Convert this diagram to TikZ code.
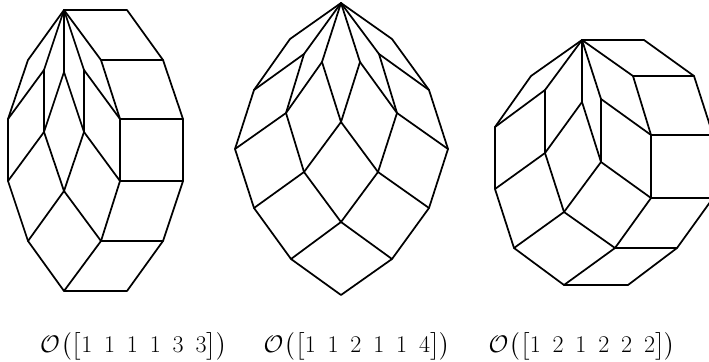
\documentclass[tikz,border=0pt]{standalone}
\usepackage{fix-cm}
\usepackage{exscale}
\tikzset{
  px/.style={x=0.75pt,y=-0.75pt},
  edge/.style={line width=1.3pt,line join=round,line cap=round,black},
  lab/.style={inner sep=0pt,anchor=base,font=\fontsize{18}{24}\selectfont}
}
\DeclareMathSizes{18}{18}{12}{9}
\newcommand{\gap}{\hspace{0.495em}}
\newcommand{\bdl}[1]{\mathopen{\hbox{$\left#1\vbox to 14.5pt{}\right.\kern-\nulldelimiterspace$}}}
\newcommand{\bdr}[1]{\mathclose{\hbox{$\left.\kern-\nulldelimiterspace\vbox to 14.5pt{}\right#1$}}}
\newcommand{\labtxt}[6]{$\mathcal{O}\hspace{0.05em}\bdl(\bdl[#1\gap #2\gap #3\gap #4\gap #5\gap #6\bdr]\bdr)$}
\begin{document}
\begin{tikzpicture}[px]
\path[use as bounding box] (0,0) rectangle (709,361);
\clip (0,0) rectangle (709,361);
% Figure 1
\foreach \n/\x/\y in {T/64/10,o1/127/10,o2/163/60,o3/183/119,o4/183/181,o5/163/241,o6/127/291,o7/64/291,o8/28/241,o9/8/181,o10/8/119,o11/28/60,
 a/101/60,b/120/119,c/120/181,d/101/241,e/84/70,f/64/72,g/44/70,h/84/132,i/44/132,j/64/191}
 \coordinate (A\n) at (\x,\y);
\draw[edge] (AT)--(Ao1)--(Ao2)--(Ao3)--(Ao4)--(Ao5)--(Ao6)--(Ao7)--(Ao8)--(Ao9)--(Ao10)--(Ao11)--cycle;
\foreach \p/\q in {T/a,a/o2,a/b,b/o3,T/e,e/b,e/h,T/f,f/h,h/c,c/b,c/o4,h/j,f/i,T/g,g/o10,g/i,i/o9,i/j,j/o8,j/d,c/d,d/o5,d/o7}
 \draw[edge] (A\p)--(A\q);
% Figure 2
\foreach \n/\x/\y in {T/341/3,r1/392/39,r2/429/90,r3/448/149,r4/429/208,r5/392/259,B/341/295,l1/290/39,l2/254/90,l3/235/149,l4/254/208,l5/291/259,
 a/304/54,b/322/62,c/360/62,d/379/54,e/286/113,f/397/113,g/341/122,h/304/172,i/378/172,j/341/222}
 \coordinate (B\n) at (\x,\y);
\draw[edge] (BT)--(Br1)--(Br2)--(Br3)--(Br4)--(Br5)--(BB)--(Bl5)--(Bl4)--(Bl3)--(Bl2)--(Bl1)--cycle;
\foreach \p/\q in {T/a,a/l2,a/e,T/b,b/e,b/g,T/c,c/g,c/f,T/d,d/r2,d/f,e/l3,e/h,f/r3,f/i,g/h,g/i,h/l4,h/j,i/r4,i/j,j/l5,j/r5}
 \draw[edge] (B\p)--(B\q);
% Figure 3
\foreach \n/\x/\y in {T/582/40,o1/644/40,o2/694/76,o3/713/135,o4/713/198,o5/677/248,o6/628/285,o7/564/285,o8/514/248,o9/495/189,o10/495/127,o11/531/76,
 a/633/76,b/651/135,c/651/198,d/615/248,f/545/90,g/582/102,h/601/99,i/545/153,j/601/162,k/564/212}
 \coordinate (C\n) at (\x,\y);
\draw[edge] (CT)--(Co1)--(Co2)--(Co3)--(Co4)--(Co5)--(Co6)--(Co7)--(Co8)--(Co9)--(Co10)--(Co11)--cycle;
\foreach \p/\q in {T/a,a/o2,a/b,b/o3,T/f,f/o10,f/i,T/g,g/i,g/j,T/h,h/b,h/j,b/c,c/o4,j/c,c/d,d/o5,d/o7,i/o9,i/k,j/k,k/o8,k/d}
 \draw[edge] (C\p)--(C\q);
% Labels
\node[lab] (L1) at (133.5,352) {\labtxt111133};
\node[lab] (L2) at (357,352) {\labtxt112114};
\node[lab] (L3) at (582,352) {\labtxt121222};
\end{tikzpicture}
\end{document}
